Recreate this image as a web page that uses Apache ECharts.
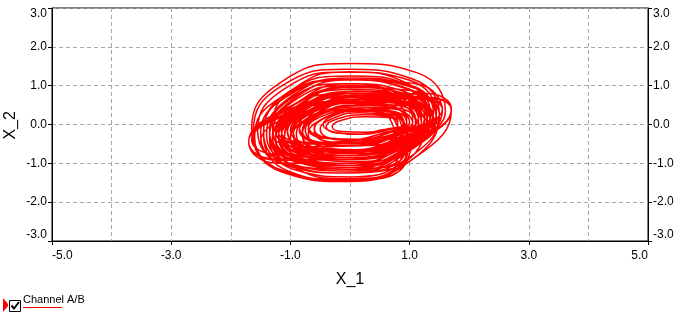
<!DOCTYPE html>
<html><head><meta charset="utf-8">
<script src="https://cdn.jsdelivr.net/npm/echarts@6/dist/echarts.min.js"></script>
<style>html,body{margin:0;padding:0;background:#fff}#c{width:680px;height:319px}</style>
</head><body><div id="c"></div>
<script>
// Axis tick values
var xTicks = [-5, -3, -1, 1, 3, 5];
var yTicks = [-3, -2, -1, 0, 1, 2, 3];
var seriesName = 'Channel A/B';

// Trajectory (X_1, X_2), in consecutive loops
var trajA = [
  [1.25,0.15],[0.89,0.70],[0.05,0.85],[-0.79,0.50],[-1.15,-0.15],[-0.79,-0.70],[0.05,-0.85],[0.89,-0.50],
  [1.35,0.15],[0.95,0.79],[0.00,0.95],[-0.95,0.51],[-1.35,-0.25],[-0.95,-0.89],[0.00,-1.05],[0.95,-0.61],
  [1.05,0.15],[0.77,0.54],[0.10,0.65],[-0.57,0.40],[-0.85,-0.05],[-0.57,-0.44],[0.10,-0.55],[0.77,-0.30],
  [1.45,0.30],[1.00,1.14],[-0.05,1.35],[-1.10,0.92],[-1.55,-0.15],[-1.10,-1.04],[-0.05,-1.25],[1.00,-0.68],
  [1.55,0.40],[1.13,0.70],[0.15,0.65],[-0.83,0.28],[-1.25,-0.20],[-0.83,-0.50],[0.15,-0.45],[1.13,-0.08],
  [1.20,0.05],[0.81,0.80],[-0.10,1.05],[-1.01,0.66],[-1.40,-0.25],[-1.01,-1.00],[-0.10,-1.25],[0.81,-0.80],
  [0.70,0.05],[0.49,0.31],[0.00,0.40],[-0.49,0.25],[-0.70,-0.05],[-0.49,-0.31],[0.00,-0.40],[0.49,-0.25],
  [1.40,0.15],[0.94,0.59],[-0.15,0.60],[-1.24,0.17],[-1.70,-0.45],[-1.24,-0.89],[-0.15,-0.90],[0.94,-0.47]
];
var trajE = [
  [1.20,0.10],[0.88,0.57],[0.10,0.65],[-0.68,0.29],[-1.00,-0.30],[-0.68,-0.77],[0.10,-0.85],[0.88,-0.49],
  [1.35,0.20],[0.98,0.73],[0.10,0.80],[-0.78,0.37],[-1.15,-0.30],[-0.78,-0.83],[0.10,-0.90],[0.98,-0.47],
  [1.10,0.05],[0.82,0.42],[0.15,0.50],[-0.52,0.22],[-0.80,-0.25],[-0.52,-0.62],[0.15,-0.70],[0.82,-0.42],
  [1.35,0.10],[0.97,0.67],[0.05,0.75],[-0.87,0.31],[-1.25,-0.40],[-0.87,-0.97],[0.05,-1.05],[0.97,-0.61],
  [1.20,0.15],[0.91,0.59],[0.20,0.65],[-0.51,0.31],[-0.80,-0.25],[-0.51,-0.69],[0.20,-0.75],[0.91,-0.41],
  [1.30,0.10],[0.95,0.71],[0.10,0.85],[-0.75,0.43],[-1.10,-0.30],[-0.75,-0.91],[0.10,-1.05],[0.95,-0.63],
  [1.10,0.15],[0.79,0.49],[0.05,0.55],[-0.69,0.29],[-1.00,-0.15],[-0.69,-0.49],[0.05,-0.55],[0.79,-0.29],
  [1.50,0.25],[1.09,0.73],[0.10,0.75],[-0.89,0.31],[-1.30,-0.35],[-0.89,-0.83],[0.10,-0.85],[1.09,-0.41],
  [1.30,0.05],[0.96,0.56],[0.15,0.65],[-0.66,0.28],[-1.00,-0.35],[-0.66,-0.86],[0.15,-0.95],[0.96,-0.58],
  [0.95,0.05],[0.69,0.34],[0.05,0.40],[-0.59,0.20],[-0.85,-0.15],[-0.59,-0.44],[0.05,-0.50],[0.69,-0.30]
];
var trajH = [
  [0.90,0.05],[0.68,0.34],[0.15,0.40],[-0.38,0.20],[-0.60,-0.15],[-0.38,-0.44],[0.15,-0.50],[0.68,-0.30],
  [0.80,0.05],[0.62,0.22],[0.20,0.25],[-0.22,0.14],[-0.40,-0.05],[-0.22,-0.22],[0.20,-0.25],[0.62,-0.14],
  [1.00,0.05],[0.74,0.42],[0.10,0.50],[-0.54,0.22],[-0.80,-0.25],[-0.54,-0.62],[0.10,-0.70],[0.74,-0.42],
  [0.80,0.03],[0.61,0.26],[0.15,0.30],[-0.31,0.14],[-0.50,-0.13],[-0.31,-0.36],[0.15,-0.40],[0.61,-0.24],
  [0.90,0.05],[0.65,0.37],[0.05,0.45],[-0.55,0.23],[-0.80,-0.15],[-0.55,-0.47],[0.05,-0.55],[0.65,-0.33],
  [0.80,0.05],[0.64,0.18],[0.25,0.20],[-0.14,0.11],[-0.30,-0.05],[-0.14,-0.18],[0.25,-0.20],[0.64,-0.11],
  [0.95,0.05],[0.67,0.50],[0.00,0.60],[-0.67,0.30],[-0.95,-0.25],[-0.67,-0.70],[0.00,-0.80],[0.67,-0.50],
  [0.90,-0.05],[0.67,0.27],[0.10,0.35],[-0.47,0.13],[-0.70,-0.25],[-0.47,-0.57],[0.10,-0.65],[0.67,-0.43],
  [0.80,0.10],[0.59,0.34],[0.10,0.38],[-0.39,0.20],[-0.60,-0.10],[-0.39,-0.34],[0.10,-0.38],[0.59,-0.20],
  [1.05,0.05],[0.76,0.39],[0.05,0.45],[-0.66,0.19],[-0.95,-0.25],[-0.66,-0.59],[0.05,-0.65],[0.76,-0.39]
];
var trajB = [
  [1.15,0.20],[0.82,0.82],[0.05,1.00],[-0.72,0.62],[-1.05,-0.10],[-0.72,-0.72],[0.05,-0.90],[0.82,-0.52],
  [1.60,0.35],[1.13,1.33],[0.00,1.57],[-1.15,1.10],[-1.65,-0.10],[-1.13,-1.23],[0.00,-1.47],[1.13,-0.81],
  [1.70,0.35],[1.26,0.68],[0.20,0.65],[-0.86,0.26],[-1.30,-0.25],[-0.86,-0.58],[0.20,-0.55],[1.26,-0.16],
  [1.20,-0.10],[0.83,0.71],[-0.05,1.00],[-0.93,0.62],[-1.30,-0.30],[-0.93,-1.11],[-0.05,-1.40],[0.83,-0.97],
  [0.95,0.10],[0.70,0.57],[0.10,0.70],[-0.50,0.43],[-0.75,-0.10],[-0.50,-0.57],[0.10,-0.70],[0.70,-0.43],
  [1.45,0.10],[1.03,1.00],[0.00,1.25],[-1.03,0.84],[-1.45,-0.25],[-1.03,-1.20],[0.00,-1.45],[1.03,-0.92],
  [1.50,0.25],[1.04,0.72],[-0.10,0.70],[-1.24,0.22],[-1.70,-0.45],[-1.24,-0.92],[-0.10,-0.90],[1.04,-0.42],
  [1.35,0.25],[0.97,0.72],[0.05,0.80],[-0.87,0.44],[-1.25,-0.15],[-0.87,-0.62],[0.05,-0.70],[0.97,-0.34]
];
var trajF = [
  [1.30,-0.05],[0.95,0.50],[0.10,0.65],[-0.75,0.30],[-1.10,-0.35],[-0.75,-0.90],[0.10,-1.05],[0.95,-0.70],
  [1.45,0.30],[1.07,0.71],[0.15,0.70],[-0.77,0.29],[-1.15,-0.30],[-0.77,-0.71],[0.15,-0.70],[1.07,-0.29],
  [1.15,0.10],[0.81,0.54],[0.00,0.60],[-0.81,0.26],[-1.15,-0.30],[-0.81,-0.74],[0.00,-0.80],[0.81,-0.46],
  [1.40,0.15],[1.05,0.50],[0.20,0.50],[-0.65,0.14],[-1.00,-0.35],[-0.65,-0.70],[0.20,-0.70],[1.05,-0.34],
  [1.35,0.10],[0.97,0.78],[0.05,0.95],[-0.87,0.50],[-1.25,-0.30],[-0.87,-0.98],[0.05,-1.15],[0.97,-0.70],
  [0.90,0.10],[0.67,0.35],[0.10,0.40],[-0.47,0.21],[-0.70,-0.10],[-0.47,-0.35],[0.10,-0.40],[0.67,-0.21],
  [1.35,0.20],[0.98,0.66],[0.10,0.70],[-0.78,0.30],[-1.15,-0.30],[-0.78,-0.76],[0.10,-0.80],[0.98,-0.40],
  [1.40,0.15],[0.98,0.59],[-0.05,0.60],[-1.08,0.17],[-1.50,-0.45],[-1.08,-0.89],[-0.05,-0.90],[0.98,-0.47],
  [1.20,0.15],[0.89,0.55],[0.15,0.60],[-0.59,0.27],[-0.90,-0.25],[-0.59,-0.65],[0.15,-0.70],[0.89,-0.37],
  [1.40,0.15],[1.00,0.75],[0.05,0.85],[-0.90,0.39],[-1.30,-0.35],[-0.90,-0.95],[0.05,-1.05],[1.00,-0.59]
];
var trajC = [
  [1.20,0.20],[0.85,0.88],[0.00,1.05],[-0.85,0.60],[-1.20,-0.20],[-0.85,-0.88],[0.00,-1.05],[0.85,-0.60],
  [1.70,0.40],[1.28,0.70],[0.25,0.65],[-0.78,0.28],[-1.20,-0.20],[-0.78,-0.50],[0.25,-0.45],[1.28,-0.08],
  [1.35,0.15],[0.94,0.94],[-0.05,1.15],[-1.04,0.76],[-1.45,-0.20],[-1.04,-1.04],[-0.05,-1.25],[0.94,-0.76],
  [0.75,0.10],[0.57,0.29],[0.15,0.35],[-0.27,0.23],[-0.45,0.00],[-0.27,-0.19],[0.15,-0.25],[0.57,-0.13],
  [1.40,0.05],[0.96,0.91],[-0.10,1.15],[-1.16,0.70],[-1.60,-0.30],[-1.16,-1.21],[-0.10,-1.45],[0.96,-0.93],
  [1.05,0.15],[0.76,0.67],[0.05,0.80],[-0.66,0.46],[-0.95,-0.15],[-0.66,-0.67],[0.05,-0.80],[0.76,-0.46],
  [1.55,0.35],[1.13,1.04],[0.10,1.15],[-0.93,0.72],[-1.35,-0.20],[-0.93,-0.94],[0.10,-1.05],[1.13,-0.52],
  [1.35,0.20],[0.91,0.57],[-0.15,0.55],[-1.21,0.15],[-1.65,-0.40],[-1.21,-0.77],[-0.15,-0.75],[0.91,-0.35]
];
var trajG = [
  [1.40,0.30],[0.98,1.02],[-0.05,1.15],[-1.08,0.70],[-1.50,-0.25],[-1.08,-1.02],[-0.05,-1.15],[0.98,-0.60],
  [1.45,0.15],[1.04,0.96],[0.05,1.15],[-0.94,0.66],[-1.35,-0.35],[-0.94,-1.16],[0.05,-1.35],[1.04,-0.80],
  [1.50,0.25],[1.03,0.79],[-0.10,0.80],[-1.23,0.29],[-1.70,-0.45],[-1.23,-0.99],[-0.10,-1.00],[1.03,-0.49],
  [1.70,0.40],[1.28,0.80],[0.25,0.75],[-0.78,0.30],[-1.20,-0.30],[-0.78,-0.70],[0.25,-0.65],[1.28,-0.20],
  [1.35,0.25],[0.95,1.03],[0.00,1.20],[-0.95,0.76],[-1.35,-0.20],[-0.95,-1.03],[0.00,-1.20],[0.95,-0.67],
  [1.30,0.10],[0.93,0.68],[0.05,0.80],[-0.83,0.40],[-1.20,-0.30],[-0.83,-0.88],[0.05,-1.00],[0.93,-0.60]
];
var trajD = [
  [1.30,0.25],[0.92,1.09],[0.00,1.35],[-0.92,0.95],[-1.30,-0.05],[-0.92,-0.89],[0.00,-1.15],[0.92,-0.69],
  [0.85,0.05],[0.62,0.37],[0.05,0.45],[-0.52,0.23],[-0.75,-0.15],[-0.52,-0.47],[0.05,-0.55],[0.62,-0.33],
  [1.55,0.40],[1.15,0.66],[0.20,0.60],[-0.75,0.24],[-1.15,-0.20],[-0.75,-0.46],[0.20,-0.40],[1.15,-0.04],
  [1.35,0.05],[0.95,0.70],[0.00,0.90],[-0.95,0.50],[-1.35,-0.25],[-0.95,-0.90],[0.00,-1.10],[0.95,-0.70],
  [1.50,0.25],[1.04,1.18],[-0.05,1.42],[-1.14,1.00],[-1.62,-0.15],[-1.14,-1.18],[-0.05,-1.42],[1.04,-0.82],
  [1.25,0.20],[0.91,0.60],[0.10,0.65],[-0.71,0.32],[-1.05,-0.20],[-0.71,-0.60],[0.10,-0.65],[0.91,-0.32],
  [1.20,0.00],[0.85,0.62],[0.00,0.80],[-0.85,0.42],[-1.20,-0.30],[-0.85,-0.92],[0.00,-1.10],[0.85,-0.72],
  [1.45,0.30],[1.04,0.87],[0.05,0.95],[-0.94,0.51],[-1.35,-0.20],[-0.94,-0.77],[0.05,-0.85],[1.04,-0.41],
  [1.25,0.15]
];

var trajectory = trajA.concat(trajE, trajB, trajH, trajF, trajC, trajG, trajD);

var fontFam = '"Liberation Sans", Arial, sans-serif';
var chart = echarts.init(document.getElementById('c'), null, {renderer: 'canvas'});

function yAxisDef(pos) {
  return {
    type: 'value', position: pos, min: yTicks[0], max: yTicks[yTicks.length - 1], interval: 1,
    axisLine: {show: true, onZero: false, lineStyle: {color: '#000', width: 1}},
    axisTick: {show: true, length: 4, lineStyle: {color: '#000'}},
    axisLabel: {
      color: '#000', fontFamily: fontFam, fontSize: 12, margin: 5,
      verticalAlignMinLabel: 'bottom', verticalAlignMaxLabel: 'top',
      formatter: function (v) { return v.toFixed(1); }
    },
    splitLine: {show: pos === 'left', lineStyle: {color: '#a8a8a8', type: [4, 3], width: 1}}
  };
}

chart.setOption({
  animation: false,
  backgroundColor: '#fff',
  grid: {left: 52, right: 32, top: 8, bottom: 78, show: true, borderColor: '#000', borderWidth: 1, backgroundColor: 'transparent'},
  xAxis: {
    type: 'value', min: xTicks[0], max: xTicks[xTicks.length - 1], interval: 2,
    name: 'X_1', nameLocation: 'middle', nameGap: 31,
    nameTextStyle: {color: '#000', fontFamily: fontFam, fontSize: 16},
    axisLine: {show: true, onZero: false, lineStyle: {color: '#000', width: 1}},
    axisTick: {show: true, length: 4, lineStyle: {color: '#000'}},
    minorTick: {show: false, splitNumber: 2},
    minorSplitLine: {show: true, lineStyle: {color: '#a8a8a8', type: [4, 3], width: 1}},
    axisLabel: {
      color: '#000', fontFamily: fontFam, fontSize: 12, margin: 9,
      alignMinLabel: 'left', alignMaxLabel: 'right',
      formatter: function (v) { return v.toFixed(1); }
    },
    splitLine: {show: true, lineStyle: {color: '#a8a8a8', type: [4, 3], width: 1}}
  },
  yAxis: [yAxisDef('left'), yAxisDef('right')],
  series: [{
    name: seriesName, type: 'line', data: trajectory, smooth: 0.5, showSymbol: false,
    xAxisIndex: 0, yAxisIndex: 0,
    lineStyle: {color: '#ff0000', width: 1.5}, itemStyle: {color: '#ff0000'}
  }],
  graphic: [
    {type: 'text', left: 3, top: 111, rotation: Math.PI / 2, style: {text: 'X_2', fill: '#000', font: '16px ' + fontFam}},
    {type: 'polygon', shape: {points: [[3, 298], [8, 304], [8, 306], [3, 312]]}, style: {fill: '#ff0000'}},
    {type: 'rect', shape: {x: 9.5, y: 300.5, width: 11, height: 11}, style: {fill: '#fff', stroke: '#000', lineWidth: 1}},
    {type: 'polyline', shape: {points: [[11.5, 305.5], [14, 308.5], [19, 302]]}, style: {stroke: '#000', lineWidth: 2, fill: null}},
    {type: 'text', x: 23, y: 294, style: {text: seriesName, fill: '#000', font: '11px ' + fontFam}},
    {type: 'rect', shape: {x: 23, y: 307, width: 39, height: 1}, style: {fill: '#ff0000'}}
  ]
});
</script>
</body></html>
